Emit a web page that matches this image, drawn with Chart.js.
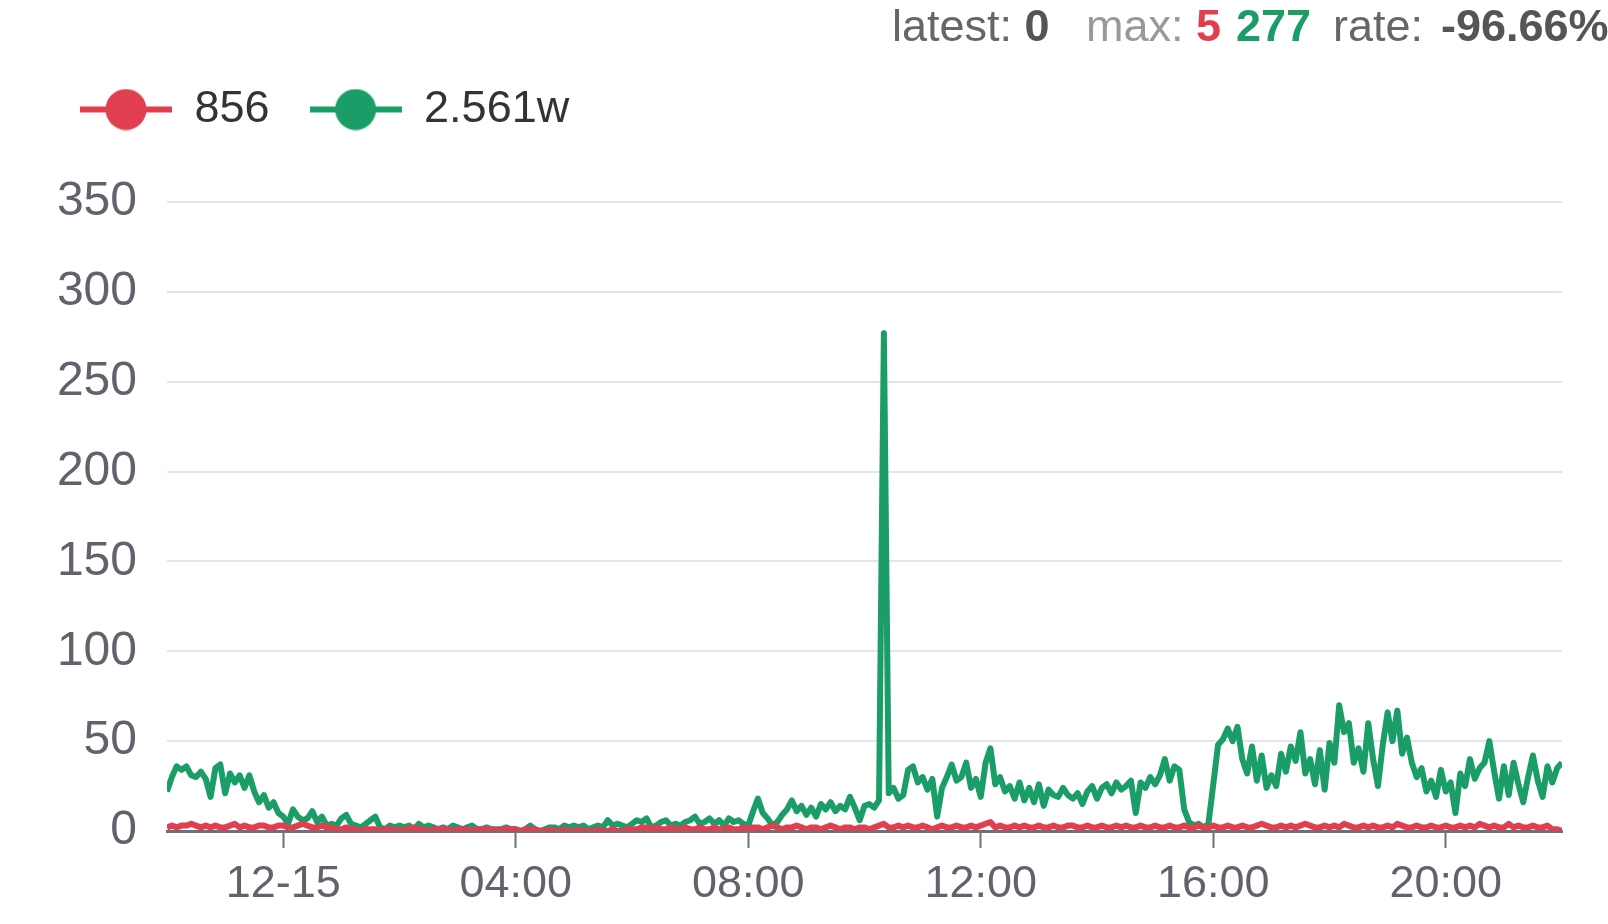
<!DOCTYPE html>
<html>
<head>
<meta charset="utf-8">
<script src="https://cdn.jsdelivr.net/npm/chart.js@4.4.1/dist/chart.umd.min.js"></script>
<style>
  body { margin: 0; background: #fff; font-family: "Liberation Sans", Arial, sans-serif; }
  #wrap { position: relative; width: 1608px; height: 924px; overflow: hidden; }
  #summary span { position: absolute; top: 0; font-size: 45px; line-height: 52px; white-space: pre; color: #666; }
  #summary .val { font-weight: bold; color: #555; }
</style>
</head>
<body>
<div id="wrap">
  <canvas id="chart" width="1608" height="924"></canvas>
  <div id="summary">
    <span style="left:892px">latest: <b class="val">0</b></span>
    <span style="left:1086px;color:#999">max:</span>
    <span style="left:1196px;color:#e03f4f;font-weight:bold">5</span>
    <span style="left:1236px;color:#1a9d67;font-weight:bold">277</span>
    <span style="left:1333px">rate: </span>
    <span class="val" style="left:1441px">-96.66%</span>
  </div>
</div>
<script>
// colours
const RED = "#e03f4f",
      GREEN = "#1a9d67"

// series labels (totals shown in the legend)
const seriesNames = ["856", "2.561w"];

// x axis: 5 minute samples from 22:00 (12-14) to 22:00 (12-15)
const stepMinutes = 5;
const tickMinutes = [120, 360, 600, 840, 1080, 1320];
const tickLabels = ["12-15", "04:00", "08:00", "12:00", "16:00", "20:00"];

// red series, one row = 2 hours
const redValues = [
  2,3,2,3,3,4,3,2,3,2,3,2,2,3,4,2,3,2,2,3,3,2,2,3,
  3,2,2,3,4,3,2,2,3,2,2,1,1,2,1,1,0,1,1,1,0,1,1,1,
  0,1,1,2,1,1,0,1,1,1,1,0,1,1,1,0,1,1,1,1,0,1,1,1,
  1,0,1,1,1,0,0,1,0,0,1,0,0,1,0,0,0,1,0,0,1,0,0,1,
  1,1,2,2,1,2,1,1,2,1,1,2,1,1,2,1,1,2,1,1,2,1,1,2,
  1,2,2,1,2,3,2,1,2,2,3,2,1,2,2,1,2,3,2,1,2,2,1,2,
  2,1,2,3,4,2,2,3,2,3,2,2,3,2,1,2,3,2,2,3,2,2,3,2,
  3,4,5,2,3,2,2,3,2,3,2,2,3,2,2,3,2,2,3,3,2,2,3,2,
  2,3,2,2,3,2,3,2,2,3,2,2,3,2,2,3,2,2,3,2,2,3,2,2,
  3,2,2,3,2,2,3,2,2,3,4,3,2,2,3,2,3,2,3,4,3,2,2,3,
  2,3,2,4,3,2,2,3,2,3,2,2,3,2,4,3,2,2,3,2,2,3,2,2,
  3,2,2,3,2,3,2,4,3,2,3,2,2,4,2,3,2,2,3,2,2,3,1,1,
  0
];

// green series, one row = 2 hours
const greenValues = [
  22,30,36,34,36,31,30,33,29,19,35,37,21,32,27,31,24,31,22,16,20,13,16,10,
  8,4,12,8,6,7,11,5,8,3,4,3,7,9,4,3,2,4,6,8,2,1,3,2,
  3,2,3,1,4,2,3,2,1,2,1,3,2,1,2,3,1,1,2,1,1,1,2,1,
  1,0,1,3,1,0,1,2,2,1,3,2,3,2,3,1,2,3,2,6,3,4,3,2,
  4,6,5,7,2,3,5,6,3,4,3,5,6,8,4,5,7,4,6,3,7,5,6,4,
  3,11,18,10,7,3,5,9,12,17,11,14,9,13,8,15,12,16,11,14,12,19,13,6,
  14,15,13,17,277,21,24,18,20,34,36,27,30,23,29,8,24,30,37,28,30,38,24,29,
  19,38,46,26,30,22,25,18,27,17,24,16,26,14,23,20,19,24,20,18,21,15,22,25,
  18,24,26,21,27,23,25,28,10,27,24,30,26,31,40,28,36,34,12,5,3,4,2,4,
  26,48,51,57,50,58,40,32,47,28,42,24,31,25,43,33,47,39,55,32,40,26,45,23,
  49,38,70,55,60,38,46,33,60,40,25,48,66,50,67,43,52,38,30,35,22,28,19,34,
  22,27,10,32,25,40,29,35,38,50,33,18,36,20,38,26,16,30,42,28,19,36,27,35,
  38
];

// y axis
const yMax = 350;
const yStep = 50;

function toPoints(values) {
    return values.map((v, i) => ({ x: i * stepMinutes, y: v }));
}

// legend marker: line with a dot in the middle
function legendMarker(color) {
    const c = document.createElement("canvas");
    c.width = 92;
    c.height = 42;
    const ctx = c.getContext("2d");
    ctx.strokeStyle = color;
    ctx.lineWidth = 6;
    ctx.beginPath();
    ctx.moveTo(0, 21);
    ctx.lineTo(92, 21);
    ctx.stroke();
    ctx.fillStyle = color;
    ctx.beginPath();
    ctx.arc(46, 21, 20.5, 0, Math.PI * 2);
    ctx.fill();
    return c;
}

// push the plot area down below the legend
const legendGap = {
    id: "legendGap",
    beforeInit(chart) {
        const fitLegend = chart.legend.fit;
        chart.legend.fit = function () {
            fitLegend.bind(chart.legend)();
            this.height += 60;
        };
    }
};

const font = { family: "'Liberation Sans', Arial, sans-serif", size: 45 };
const yFont = { family: "'Liberation Sans', Arial, sans-serif", size: 48 };

new Chart(document.getElementById("chart"), {
    type: "line",
    plugins: [legendGap],
    data: {
        datasets: [
            {
                label: seriesNames[0],
                data: toPoints(redValues),
                borderColor: RED,
                backgroundColor: RED,
                borderWidth: 6,
                pointRadius: 0,
                pointStyle: legendMarker(RED),
                borderJoinStyle: "round"
            },
            {
                label: seriesNames[1],
                data: toPoints(greenValues),
                borderColor: GREEN,
                backgroundColor: GREEN,
                borderWidth: 6,
                pointRadius: 0,
                pointStyle: legendMarker(GREEN),
                borderJoinStyle: "round"
            }
        ]
    },
    options: {
        responsive: false,
        animation: false,
        layout: { padding: { top: 47, left: 40, right: 46, bottom: 2 } },
        plugins: {
            tooltip: { enabled: false },
            legend: {
                position: "top",
                align: "start",
                labels: {
                    usePointStyle: true,
                    pointStyleWidth: 92,
                    padding: 40,
                    color: "#333",
                    font: font
                }
            }
        },
        scales: {
            x: {
                type: "linear",
                min: 0,
                max: (greenValues.length - 1) * stepMinutes,
                afterBuildTicks: (axis) => {
                    axis.ticks = tickMinutes.map(v => ({ value: v }));
                },
                border: { color: "#6e7079", width: 3 },
                grid: {
                    drawOnChartArea: false,
                    drawTicks: true,
                    tickLength: 17,
                    tickColor: "#6e7079",
                    tickWidth: 2
                },
                ticks: {
                    autoSkip: false,
                    maxRotation: 0,
                    padding: 10,
                    color: "#60636b",
                    font: font,
                    callback: (value) => tickLabels[tickMinutes.indexOf(value)]
                }
            },
            y: {
                min: 0,
                max: yMax,
                afterFit: (scale) => { scale.width = 127; },
                border: { display: false },
                grid: { color: "#e0e6f1", lineWidth: 2, drawTicks: false },
                ticks: {
                    stepSize: yStep,
                    padding: 30,
                    color: "#60636b",
                    font: yFont
                }
            }
        }
    }
});
</script>
</body>
</html>
